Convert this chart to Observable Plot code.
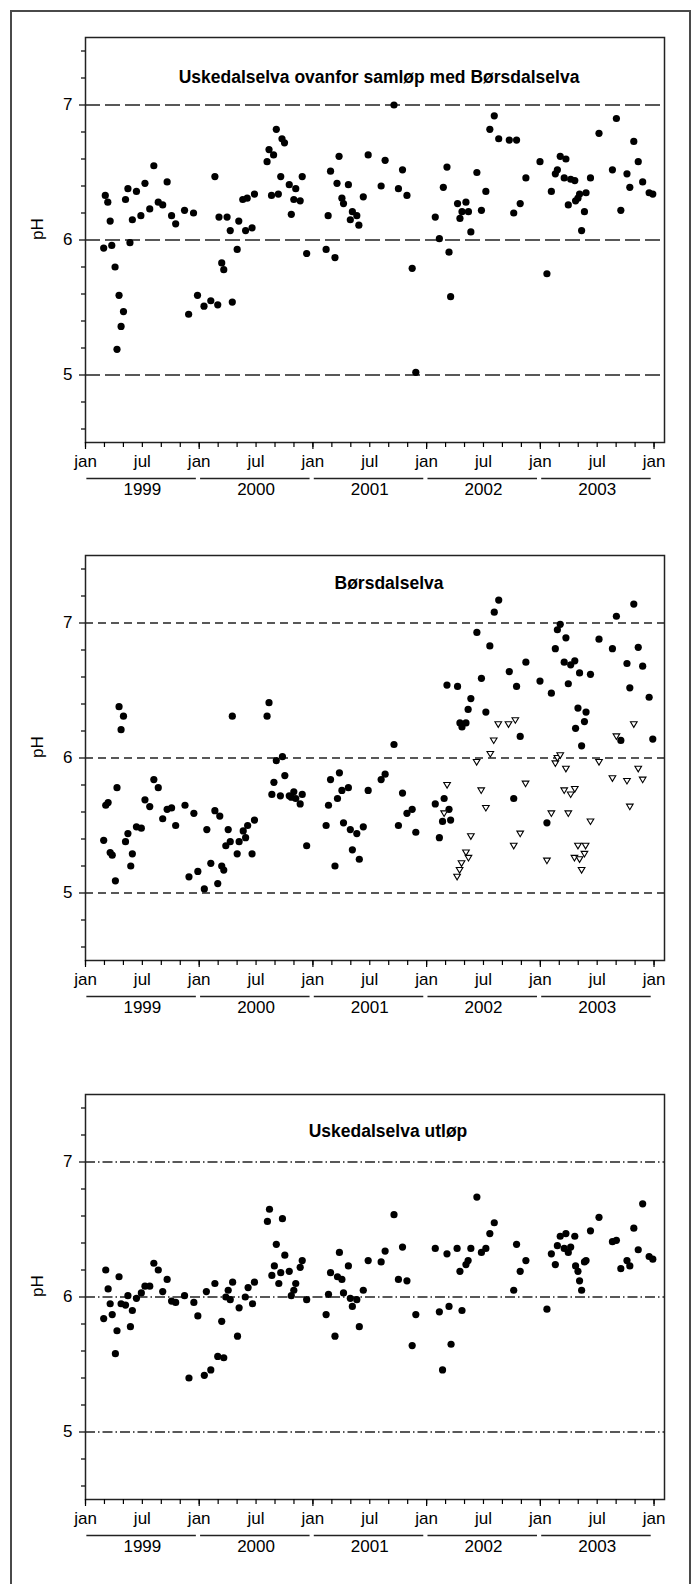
<!DOCTYPE html>
<html>
<head>
<meta charset="utf-8">
<script src="https://cdn.jsdelivr.net/npm/d3@7"></script>
<script src="https://cdn.jsdelivr.net/npm/@observablehq/plot@0.6"></script>
<style>
  html, body { margin: 0; padding: 0; background: #fff; }
  #page { position: relative; width: 694px; height: 1584px; overflow: hidden; background: #fff; }
  #border { position: absolute; left: 10px; top: 10px; width: 681px; height: 1600px; border: 2px solid #4a4a4a; box-sizing: border-box; }
  .panel { position: absolute; left: 0; }
</style>
</head>
<body>
<div id="page">
  <div id="border"></div>
  <div id="p1" class="panel" style="top:7px"></div>
  <div id="p2" class="panel" style="top:525px"></div>
  <div id="p3" class="panel" style="top:1064px"></div>
</div>
<script>
// ---------- shared axis content ----------
const years = [1999, 2000, 2001, 2002, 2003];
const halfYearTicks = [1999, 1999.5, 2000, 2000.5, 2001, 2001.5, 2002, 2002.5, 2003, 2003.5, 2004];
const halfYearLabels = ["jan", "jul", "jan", "jul", "jan", "jul", "jan", "jul", "jan", "jul", "jan"];
const janTicks = [1999, 2000, 2001, 2002, 2003, 2004];
const monthTicks = d3.range(0, 31).map(i => 1999 + i / 6); // every second month
const yMajor = [5, 6, 7];
const yMinor = [4.6, 4.8, 5.2, 5.4, 5.6, 5.8, 6.2, 6.4, 6.6, 6.8, 7.2, 7.4];
const refLines = [5, 6, 7];

// ---------- panel titles ----------
const title1 = "Uskedalselva ovanfor samløp med Børsdalselva";
const title2 = "Børsdalselva";
const title3 = "Uskedalselva utløp";

// ---------- panel 1: Uskedalselva ovanfor samløp med Børsdalselva ----------
const t1 = [1999.160,1999.174,1999.196,1999.217,1999.231,1999.260,1999.277,1999.295,1999.313,1999.334,1999.352,1999.373,1999.391,1999.412,1999.448,1999.487,1999.523,1999.565,1999.601,1999.640,1999.679,1999.718,1999.757,1999.793,1999.871,1999.907,1999.950,1999.985,
2000.042,2000.102,2000.138,2000.163,2000.174,2000.198,2000.216,2000.245,2000.273,2000.291,2000.334,2000.348,2000.383,2000.408,2000.422,2000.465,2000.486,2000.597,2000.614,2000.636,2000.654,2000.678,2000.696,2000.717,2000.728,2000.750,2000.792,2000.810,2000.832,2000.849,2000.888,2000.906,2000.945,
2001.116,2001.134,2001.155,2001.194,2001.212,2001.230,2001.255,2001.269,2001.312,2001.329,2001.347,2001.386,2001.404,2001.443,2001.486,2001.600,2001.635,2001.713,2001.752,2001.788,2001.827,2001.873,2001.905,
2002.076,2002.112,2002.147,2002.179,2002.197,2002.211,2002.272,2002.293,2002.311,2002.346,2002.368,2002.389,2002.442,2002.482,2002.521,2002.556,2002.595,2002.634,2002.727,2002.766,2002.791,2002.823,2002.873,2002.997,
2003.058,2003.097,2003.132,2003.150,2003.175,2003.210,2003.225,2003.246,2003.267,2003.303,2003.310,2003.331,2003.345,2003.363,2003.388,2003.402,2003.441,2003.516,2003.634,2003.669,2003.708,2003.762,2003.787,2003.822,2003.861,2003.900,2003.957,2003.989];
const ph1 = [5.94,6.33,6.28,6.14,5.96,5.80,5.19,5.59,5.36,5.47,6.30,6.38,5.98,6.15,6.36,6.18,6.42,6.23,6.55,6.28,6.26,6.43,6.18,6.12,6.22,5.45,6.20,5.59,
5.51,5.55,6.47,5.52,6.17,5.83,5.78,6.17,6.07,5.54,5.93,6.14,6.30,6.07,6.31,6.09,6.34,6.58,6.67,6.33,6.63,6.82,6.34,6.47,6.75,6.72,6.41,6.19,6.30,6.38,6.29,6.47,5.90,
5.93,6.18,6.51,5.87,6.42,6.62,6.31,6.27,6.41,6.15,6.21,6.18,6.11,6.32,6.63,6.40,6.59,7.00,6.38,6.52,6.33,5.79,5.02,
6.17,6.01,6.39,6.54,5.91,5.58,6.27,6.16,6.21,6.28,6.21,6.06,6.50,6.22,6.36,6.82,6.92,6.75,6.74,6.20,6.74,6.27,6.46,6.58,
5.75,6.36,6.49,6.52,6.62,6.46,6.60,6.26,6.45,6.44,6.29,6.31,6.34,6.07,6.21,6.35,6.46,6.79,6.52,6.90,6.22,6.49,6.39,6.73,6.58,6.43,6.35,6.34];

// ---------- panel 2: Børsdalselva (filled = dots, open = triangles) ----------
const t2 = [1999.160,1999.178,1999.199,1999.217,1999.235,1999.263,1999.277,1999.295,1999.313,1999.334,1999.352,1999.373,1999.398,1999.412,1999.448,1999.491,1999.523,1999.565,1999.601,1999.640,1999.679,1999.718,1999.757,1999.793,1999.875,1999.910,1999.953,1999.988,
2000.045,2000.067,2000.102,2000.138,2000.163,2000.181,2000.198,2000.216,2000.234,2000.255,2000.273,2000.291,2000.334,2000.351,2000.387,2000.408,2000.426,2000.465,2000.486,2000.597,2000.614,2000.639,2000.657,2000.678,2000.714,2000.732,2000.753,2000.792,2000.810,2000.832,2000.849,2000.888,2000.906,2000.945,
2001.116,2001.137,2001.155,2001.194,2001.216,2001.233,2001.255,2001.269,2001.312,2001.329,2001.347,2001.386,2001.408,2001.443,2001.486,2001.600,2001.635,2001.713,2001.752,2001.788,2001.827,2001.873,2001.905,
2002.076,2002.112,2002.140,2002.154,2002.179,2002.197,2002.211,2002.272,2002.293,2002.311,2002.346,2002.365,2002.389,2002.442,2002.482,2002.521,2002.556,2002.595,2002.634,2002.727,2002.766,2002.791,2002.823,2002.873,2002.997,
2003.058,2003.097,2003.132,2003.150,2003.175,2003.210,2003.225,2003.246,2003.267,2003.303,2003.310,2003.331,2003.345,2003.363,2003.388,2003.402,2003.441,2003.516,2003.634,2003.669,2003.708,2003.762,2003.787,2003.822,2003.861,2003.900,2003.957,2003.989];
const ph2 = [5.39,5.65,5.67,5.30,5.28,5.09,5.78,6.38,6.21,6.31,5.38,5.44,5.20,5.29,5.49,5.48,5.69,5.64,5.84,5.78,5.55,5.62,5.63,5.50,5.65,5.12,5.59,5.16,
5.03,5.47,5.22,5.61,5.07,5.57,5.20,5.17,5.35,5.47,5.38,6.31,5.29,5.38,5.46,5.41,5.50,5.29,5.54,6.31,6.41,5.73,5.82,5.98,5.72,6.01,5.87,5.72,5.71,5.75,5.70,5.66,5.73,5.35,
5.50,5.65,5.84,5.20,5.70,5.89,5.76,5.52,5.78,5.47,5.32,5.44,5.25,5.49,5.76,5.84,5.88,6.10,5.50,5.74,5.59,5.62,5.45,
5.66,5.41,5.53,5.70,6.54,5.62,5.54,6.53,6.26,6.23,6.26,6.36,6.44,6.93,6.59,6.34,6.83,7.08,7.17,6.64,5.70,6.53,6.16,6.71,6.57,
5.52,6.48,6.81,6.95,6.99,6.71,6.89,6.55,6.69,6.72,6.22,6.37,6.63,6.09,6.27,6.34,6.62,6.88,6.81,7.05,6.13,6.70,6.52,7.14,6.82,6.68,6.45,6.14];
const t2open = [2002.154,2002.180,2002.268,2002.290,2002.307,2002.346,2002.368,2002.389,2002.440,2002.480,2002.521,2002.560,2002.590,2002.630,2002.720,2002.766,2002.780,2002.823,2002.870,
2003.058,2003.097,2003.132,2003.150,2003.175,2003.210,2003.225,2003.246,2003.267,2003.300,2003.303,2003.331,2003.345,2003.363,2003.388,2003.398,2003.441,2003.516,2003.634,2003.669,2003.762,2003.787,2003.822,2003.861,2003.900];
const ph2open = [5.59,5.80,5.12,5.17,5.22,5.30,5.26,5.42,5.97,5.76,5.63,6.03,6.13,6.25,6.25,5.35,6.28,5.44,5.81,
5.24,5.59,5.96,6.00,6.02,5.76,5.92,5.59,5.73,5.26,5.77,5.35,5.25,5.17,5.29,5.35,5.53,5.97,5.85,6.16,5.83,5.64,6.25,5.92,5.84];

// ---------- panel 3: Uskedalselva utløp ----------
const t3 = [1999.160,1999.178,1999.199,1999.217,1999.235,1999.263,1999.277,1999.295,1999.313,1999.352,1999.373,1999.395,1999.412,1999.448,1999.491,1999.523,1999.565,1999.601,1999.640,1999.679,1999.718,1999.757,1999.793,1999.871,1999.910,1999.953,1999.988,
2000.045,2000.063,2000.102,2000.138,2000.163,2000.198,2000.216,2000.234,2000.255,2000.273,2000.294,2000.337,2000.351,2000.405,2000.430,2000.469,2000.486,2000.600,2000.618,2000.639,2000.661,2000.678,2000.700,2000.717,2000.732,2000.753,2000.792,2000.810,2000.832,2000.849,2000.888,2000.906,2000.945,
2001.116,2001.137,2001.155,2001.194,2001.216,2001.233,2001.255,2001.269,2001.312,2001.329,2001.347,2001.386,2001.408,2001.443,2001.486,2001.600,2001.635,2001.713,2001.752,2001.788,2001.827,2001.873,2001.905,
2002.076,2002.112,2002.140,2002.179,2002.197,2002.215,2002.268,2002.293,2002.311,2002.346,2002.365,2002.389,2002.442,2002.482,2002.521,2002.556,2002.595,2002.766,2002.791,2002.823,2002.873,
2003.058,2003.097,2003.132,2003.150,2003.175,2003.210,2003.225,2003.246,2003.267,2003.303,2003.310,2003.331,2003.345,2003.363,2003.388,2003.402,2003.441,2003.516,2003.634,2003.669,2003.708,2003.762,2003.787,2003.822,2003.861,2003.900,2003.957,2003.989];
const ph3 = [5.84,6.20,6.06,5.95,5.87,5.58,5.75,6.15,5.95,5.94,6.01,5.78,5.90,5.99,6.03,6.08,6.08,6.25,6.20,6.04,6.13,5.97,5.96,6.01,5.40,5.96,5.86,
5.42,6.04,5.46,6.10,5.56,5.82,5.55,6.00,6.05,5.98,6.11,5.71,5.92,6.00,6.07,5.95,6.11,6.56,6.65,6.16,6.23,6.39,6.10,6.18,6.58,6.31,6.19,6.01,6.05,6.10,6.22,6.27,5.98,
5.87,6.02,6.18,5.71,6.15,6.33,6.13,6.03,6.23,5.99,5.93,5.98,5.78,6.05,6.27,6.26,6.34,6.61,6.13,6.37,6.12,5.64,5.87,
6.36,5.89,5.46,6.32,5.93,5.65,6.36,6.19,5.90,6.24,6.27,6.36,6.74,6.33,6.36,6.47,6.55,6.05,6.39,6.19,6.27,
5.91,6.32,6.24,6.38,6.45,6.36,6.47,6.33,6.37,6.45,6.23,6.19,6.12,6.05,6.26,6.27,6.49,6.59,6.41,6.42,6.21,6.27,6.23,6.51,6.35,6.69,6.30,6.28];

// downward-pointing open triangle symbol
const triangleDown = {
  draw(context, size) {
    const r = Math.sqrt(size / Math.PI);
    const w = r * 0.95, top = r * 0.72, bot = r * 0.88;
    context.moveTo(-w, -top);
    context.lineTo(w, -top);
    context.lineTo(0, bot);
    context.closePath();
  }
};

const toRows = (ts, vs) => ts.map((t, i) => ({t, ph: vs[i]}));

function panel({title, titleDy, titleDx, dash, series}) {
  return Plot.plot({
    width: 694,
    height: 505,
    marginLeft: 85,
    marginRight: 30,
    marginTop: 30,
    marginBottom: 70,
    x: {type: "linear", domain: [1999, 2004.092]},
    y: {domain: [4.5, 7.5]},
    style: {fontFamily: "'Liberation Sans', Arial, Helvetica, sans-serif", fontSize: "17px", color: "black", background: "transparent", overflow: "visible"},
    marks: [
      Plot.ruleY(refLines, {stroke: "#222", strokeWidth: 1.3, strokeDasharray: dash}),
      Plot.frame({stroke: "#222", strokeWidth: 1.5}),
      Plot.axisY({ticks: yMinor, tickSize: 4, tickFormat: () => "", label: null, strokeWidth: 1.2}),
      Plot.axisY({ticks: yMajor, tickSize: 6, tickPadding: 7, tickFormat: d => String(d), label: null, strokeWidth: 1.2, fontSize: 17}),
      Plot.axisX({ticks: monthTicks, tickSize: 5, tickFormat: () => "", label: null, strokeWidth: 1.2}),
      Plot.axisX({ticks: janTicks, tickSize: 7, tickFormat: () => "", label: null, strokeWidth: 1.2}),
      Plot.text(halfYearTicks, {x: d => d, text: (d, i) => halfYearLabels[i], frameAnchor: "bottom", dy: 24, fontSize: 17}),
      Plot.ruleY(years, {y: () => 4.5, x1: d => d + 0.012, x2: d => d + 0.975, dy: 36, stroke: "#222", strokeWidth: 1.3}),
      Plot.text(years, {x: d => d + 0.5, text: d => String(d), frameAnchor: "bottom", dy: 52, fontSize: 17}),
      Plot.text(["pH"], {frameAnchor: "left", dx: -48, rotate: -90, fontSize: 17}),
      Plot.text([title], {frameAnchor: "top", lineAnchor: "middle", dy: titleDy, dx: titleDx, fontWeight: "bold", fontSize: 17.5}),
      ...series
    ]
  });
}

document.getElementById("p1").append(panel({
  title: title1, titleDy: 40, titleDx: 4, dash: "15,5",
  series: [Plot.dot(toRows(t1, ph1), {x: "t", y: "ph", r: 3.6, fill: "black"})]
}));
document.getElementById("p2").append(panel({
  title: title2, titleDy: 28, titleDx: 14, dash: "8,5",
  series: [
    Plot.dot(toRows(t2, ph2), {x: "t", y: "ph", r: 3.6, fill: "black"}),
    Plot.dot(toRows(t2open, ph2open), {x: "t", y: "ph", r: 3.5, symbol: triangleDown, fill: "white", stroke: "black", strokeWidth: 1.1})
  ]
}));
document.getElementById("p3").append(panel({
  title: title3, titleDy: 37, titleDx: 13, dash: "10,3,1.5,3",
  series: [Plot.dot(toRows(t3, ph3), {x: "t", y: "ph", r: 3.6, fill: "black"})]
}));
</script>
</body>
</html>
